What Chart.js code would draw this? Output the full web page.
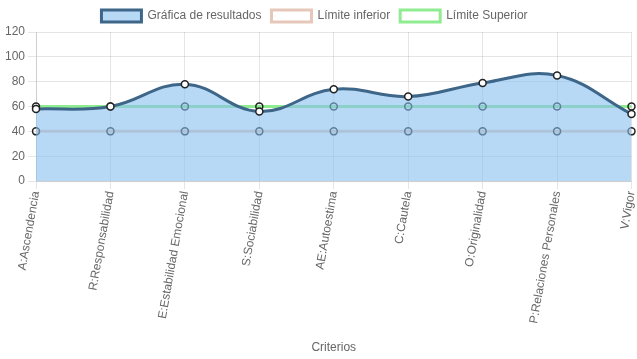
<!DOCTYPE html>
<html>
<head>
<meta charset="utf-8">
<script src="https://cdn.jsdelivr.net/npm/chart.js@4"></script>
<style>
html,body{margin:0;padding:0;background:#fff;}
#wrap{width:637px;height:359px;}
</style>
</head>
<body>
<div id="wrap"><canvas id="c" width="637" height="359"></canvas></div>
<script>
const categories = ["A:Ascendencia","R:Responsabilidad","E:Estabilidad Emocional","S:Sociabilidad","AE:Autoestima","C:Cautela","O:Originalidad","P:Relaciones Personales","V:Vigor"];
const resultados = [58, 60, 78, 56, 74, 68, 79, 85, 54];
const limiteInferior = [40, 40, 40, 40, 40, 40, 40, 40, 40];
const limiteSuperior = [60, 60, 60, 60, 60, 60, 60, 60, 60];
const seriesNames = ["Gráfica de resultados", "Límite inferior", "Límite Superior"];
const yTicks = [0, 20, 40, 60, 80, 100, 120];

Chart.defaults.font.family = "'Liberation Sans', Arial, Helvetica, sans-serif";
Chart.defaults.font.size = 12;
Chart.defaults.color = '#666';

const legendShift = {
  id: 'legendShift',
  afterLayout(chart) {
    if (chart.legend) {
      chart.legend.left -= 4;
      chart.legend.right -= 4;
    }
  }
};

new Chart(document.getElementById('c'), {
  type: 'line',
  plugins: [legendShift],
  data: {
    labels: categories,
    datasets: [
      {
        label: seriesNames[0],
        data: resultados,
        backgroundColor: 'rgba(137,192,240,0.6)',
        borderColor: '#3d6689',
        borderWidth: 3,
        fill: 'origin',
        tension: 0.4,
        pointRadius: 3.5,
        pointBorderWidth: 1.5,
        pointBackgroundColor: '#fff',
        pointBorderColor: '#222',
        order: 0
      },
      {
        label: seriesNames[1],
        data: limiteInferior,
        backgroundColor: '#fff',
        borderColor: 'rgb(230,200,186)',
        borderWidth: 3,
        fill: false,
        tension: 0.4,
        pointRadius: 3.5,
        pointBorderWidth: 1.5,
        pointBackgroundColor: 'rgba(255,255,255,0)',
        pointBorderColor: '#222',
        order: 1
      },
      {
        label: seriesNames[2],
        data: limiteSuperior,
        backgroundColor: '#fff',
        borderColor: 'rgb(144,236,144)',
        borderWidth: 3,
        fill: false,
        tension: 0.4,
        pointRadius: 3.5,
        pointBorderWidth: 1.5,
        pointBackgroundColor: 'rgba(255,255,255,0)',
        pointBorderColor: '#222',
        order: 2
      }
    ]
  },
  options: {
    responsive: false,
    animation: false,
    layout: { padding: { left: 2, right: 2, top: 0, bottom: 0 } },
    plugins: {
      legend: {
        position: 'top',
        labels: { boxWidth: 40, boxHeight: 12, padding: 10, color: '#666' }
      },
      tooltip: { enabled: false }
    },
    scales: {
      x: {
        offset: false,
        grid: { color: 'rgba(0,0,0,0.1)' },
        ticks: { autoSkip: false, maxRotation: 80, minRotation: 80, color: '#666', padding: 1 },
        title: { display: true, text: 'Criterios', color: '#666' },
        afterFit: function (scale) {
          scale.height = scale.height + 11;
          scale.paddingRight = 0;
        }
      },
      y: {
        min: yTicks[0],
        max: yTicks[yTicks.length - 1],
        grid: { color: 'rgba(0,0,0,0.1)' },
        ticks: { stepSize: 20, color: '#666' }
      }
    }
  }
});
</script>
</body>
</html>
